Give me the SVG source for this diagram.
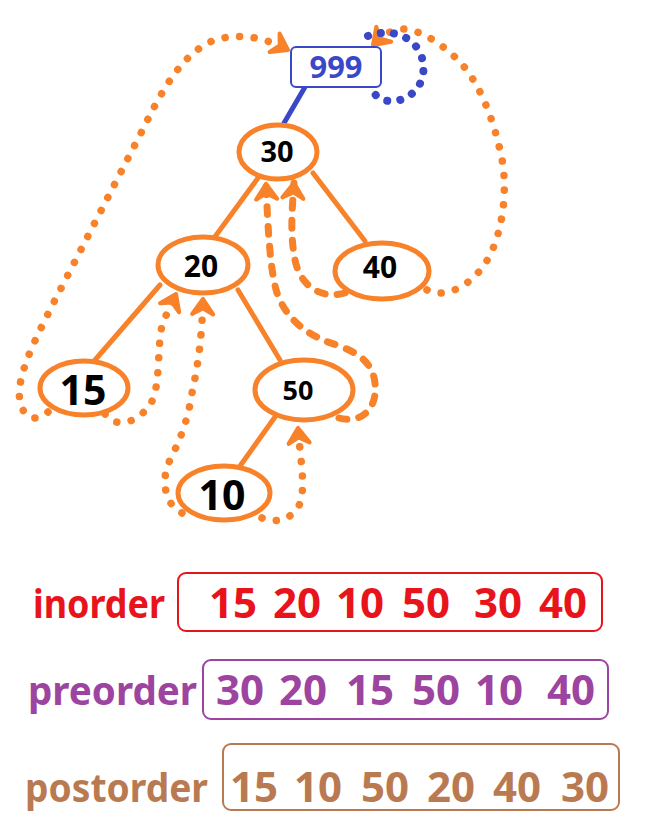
<svg xmlns="http://www.w3.org/2000/svg" width="664" height="828" viewBox="0 0 664 828">
<style>
.nd{fill:#fff;stroke:#f8822a;stroke-width:5}
.ed{stroke:#f8822a;stroke-width:5;stroke-linecap:round;fill:none}
.dot{fill:none;stroke:#f8822a;stroke-width:7.5;stroke-linecap:round;stroke-dasharray:0.1 14.5}
.dash{fill:none;stroke:#f8822a;stroke-width:7;stroke-linecap:round;stroke-dasharray:8 12}
.bdot{fill:none;stroke:#3a48c8;stroke-width:8;stroke-linecap:round;stroke-dasharray:0.1 13}
.nt{font-family:"Noto Sans","DejaVu Sans",sans-serif;font-weight:700;fill:#000;text-anchor:middle}
.lb{font-family:"Noto Sans","DejaVu Sans",sans-serif;font-weight:700;font-size:40px}
.num{font-family:"Noto Sans","DejaVu Sans",sans-serif;font-weight:700;font-size:42px;text-anchor:middle}
</style>
<defs>
<marker id="ah" viewBox="-16 -12 18 24" markerWidth="22" markerHeight="28" refX="0" refY="0" orient="auto" markerUnits="userSpaceOnUse">
<path d="M0,0 L-13,-9 L-8,0 L-13,9 Z" fill="#f8822a" stroke="#f8822a" stroke-width="3.5" stroke-linejoin="round"/>
</marker>
</defs>
<g id="connectors">
<line x1="305" y1="87" x2="284" y2="123" stroke="#3a48c8" stroke-width="5" stroke-linecap="round"/>
<line class="ed" x1="258" y1="178" x2="214" y2="238"/>
<line class="ed" x1="313" y1="173" x2="365" y2="241"/>
<line class="ed" x1="160" y1="285" x2="95" y2="360"/>
<line class="ed" x1="238" y1="290" x2="280" y2="360"/>
<line class="ed" x1="275" y1="417" x2="240" y2="466"/>
<path class="dot" d="M48,412 C30,428 16,410 20,385 C24,360 40,330 55,300 L140,135 C160,95 178,58 210,42 C235,32 262,36 288,50" marker-end="url(#ah)"/>
<path class="dot" d="M105,414 C115,428 135,425 150,405 C162,385 156,345 163,322 L176,294" marker-end="url(#ah)"/>
<path class="dot" d="M182,513 C165,505 160,480 170,460 C180,440 188,420 192,393 C197,370 202,340 203,299" marker-end="url(#ah)"/>
<path class="dot" d="M262,518 C280,526 300,515 302,495 C304,475 300,455 298,428" marker-end="url(#ah)"/>
<path class="dash" d="M339,418 C360,424 378,410 375,383 C372,355 345,348 325,341 C300,330 285,315 277,293 C270,270 268,230 266,184" marker-end="url(#ah)"/>
<path class="dash" d="M345,293 C320,300 300,285 295,260 C290,235 292,210 294,183" marker-end="url(#ah)"/>
<path class="dot" d="M427,290 C445,300 475,285 490,255 C505,225 508,180 500,150 C492,115 478,80 458,60 C438,40 412,25 395,30 C386,33 380,38 373,45" marker-end="url(#ah)"/>
<path class="bdot" d="M368,36 C390,28 415,35 422,58 C428,80 415,98 395,101 C383,102 375,97 373,90"/>
</g>
<g id="n999">
<rect x="291" y="47" width="90" height="40" rx="5" fill="#fff" stroke="#3a48c8" stroke-width="2"/>
<text x="336" y="78" font-family="Noto Sans, DejaVu Sans, sans-serif" font-weight="700" font-size="30" fill="#3a48c8" text-anchor="middle" textLength="53" lengthAdjust="spacingAndGlyphs">999</text>
</g>
<g id="n30"><ellipse class="nd" cx="278" cy="152" rx="39" ry="27"/><text class="nt" x="277" y="162" font-size="29">30</text></g>
<g id="n20"><ellipse class="nd" cx="203" cy="265" rx="45" ry="28"/><text class="nt" x="201" y="277" font-size="30">20</text></g>
<g id="n40"><ellipse class="nd" cx="382" cy="271" rx="47" ry="28"/><text class="nt" x="380" y="278" font-size="30">40</text></g>
<g id="n15"><ellipse class="nd" cx="84" cy="388" rx="44" ry="27"/><text class="nt" x="83" y="405" font-size="41">15</text></g>
<g id="n50"><ellipse class="nd" cx="304" cy="390" rx="49" ry="30"/><text class="nt" x="298" y="400" font-size="27">50</text></g>
<g id="n10"><ellipse class="nd" cx="224" cy="493" rx="46" ry="27"/><text class="nt" x="222" y="510" font-size="41">10</text></g>
<g id="inorder">
<text class="lb" x="33" y="618" fill="#e8141c" textLength="132" lengthAdjust="spacingAndGlyphs">inorder</text>
<rect x="178" y="573" width="424" height="58" rx="8" fill="none" stroke="#e8141c" stroke-width="2"/>
<g class="num" fill="#e8141c"><text x="233" y="618">15</text><text x="297" y="618">20</text><text x="360" y="618">10</text><text x="426" y="618">50</text><text x="498" y="618">30</text><text x="563" y="618">40</text></g>
</g>
<g id="preorder">
<text class="lb" x="28" y="705" fill="#9c44a0" textLength="169" lengthAdjust="spacingAndGlyphs">preorder</text>
<rect x="203" y="660" width="405" height="59" rx="8" fill="none" stroke="#9c44a0" stroke-width="2"/>
<g class="num" fill="#9c44a0"><text x="240" y="705">30</text><text x="303" y="705">20</text><text x="370" y="705">15</text><text x="436" y="705">50</text><text x="499" y="705">10</text><text x="571" y="705">40</text></g>
</g>
<g id="postorder">
<text class="lb" x="25" y="802" fill="#b97a52" textLength="183" lengthAdjust="spacingAndGlyphs">postorder</text>
<rect x="223" y="744" width="396" height="66" rx="8" fill="none" stroke="#b97a52" stroke-width="2"/>
<g class="num" fill="#b97a52"><text x="254" y="802">15</text><text x="318" y="802">10</text><text x="385" y="802">50</text><text x="451" y="802">20</text><text x="517" y="802">40</text><text x="585" y="802">30</text></g>
</g>
</svg>
